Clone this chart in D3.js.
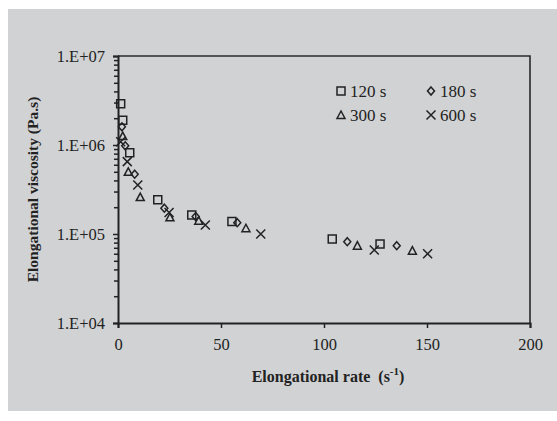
<!DOCTYPE html>
<html>
<head>
<meta charset="utf-8">
<script src="https://cdn.jsdelivr.net/npm/d3@7"></script>
<style>
  body { margin: 0; background: #fff; }
  text { font-family: "Liberation Serif", "Times New Roman", serif; fill: #222; }
</style>
</head>
<body>
<div id="chart"></div>
<script>
// data
const series = ["120 s", "180 s", "300 s", "600 s"];
const rate120 = [1.3, 2.3, 5.7, 19.3, 35.8, 55.3, 104, 127.2];
const visc120 = [2.9e6, 1.9e6, 8.2e5, 2.43e5, 1.63e5, 1.38e5, 8.8e4, 7.7e4];
const rate180 = [1.9, 3.5, 8.1, 22.5, 37.7, 57.9, 111.3, 135.3];
const visc180 = [1.6e6, 9.8e5, 4.7e5, 1.95e5, 1.57e5, 1.34e5, 8.2e4, 7.4e4];
const rate300 = [2.3, 5.0, 10.8, 25.2, 39.2, 62.1, 116.2, 142.9];
const visc300 = [1.26e6, 5.0e5, 2.6e5, 1.54e5, 1.41e5, 1.16e5, 7.4e4, 6.5e4];
const rate600 = [1.3, 4.5, 9.6, 24.8, 42.4, 69.3, 124.4, 150.3];
const visc600 = [1.09e6, 6.5e5, 3.55e5, 1.74e5, 1.26e5, 1.0e5, 6.6e4, 6.0e4];
const xTicks = [0, 50, 100, 150, 200];
const yTicks = [1e4, 1e5, 1e6, 1e7];

const width = 557, height = 421;
const plotL = 118, plotR = 530, plotT = 56, plotB = 323;

const svg = d3.select("#chart").append("svg")
  .attr("width", width)
  .attr("height", height);

// gray panel
svg.append("rect")
  .attr("x", 8).attr("y", 9)
  .attr("width", width - 8).attr("height", 402)
  .attr("fill", "#d1d2d4");

const x = d3.scaleLinear().domain([0, 200]).range([plotL, plotR]);
const y = d3.scaleLog().domain([1e4, 1e7]).range([plotB, plotT]);

// frame top and right
svg.append("path")
  .attr("d", `M${plotL},${plotT}H${plotR}V${plotB}`)
  .attr("fill", "none")
  .attr("stroke", "#2a2a2a")
  .attr("stroke-width", 1.6);

// minor ticks on log axis
const minor = [];
yTicks.slice(0, 3).forEach(p => {
  for (let k = 2; k <= 9; k++) minor.push(p * k);
});

svg.append("g")
  .attr("transform", `translate(${plotL},0)`)
  .call(d3.axisLeft(y).tickValues(minor).tickSize(4).tickFormat(""))
  .call(g => g.select(".domain").remove())
  .call(g => g.selectAll("line").attr("stroke", "#222").attr("stroke-width", 1.5));

const yAxis = svg.append("g")
  .attr("transform", `translate(${plotL},0)`)
  .call(d3.axisLeft(y).tickValues(yTicks).tickSize(5).tickPadding(8)
    .tickFormat(d => "1.E+" + String(Math.round(Math.log10(d))).padStart(2, "0")));
yAxis.select(".domain").attr("stroke", "#222").attr("stroke-width", 2);
yAxis.selectAll("line").attr("stroke", "#222").attr("stroke-width", 1.5);
yAxis.selectAll("text").attr("font-size", 16.5).attr("fill", "#222")
  .style("font-family", "Liberation Serif");

const xAxis = svg.append("g")
  .attr("transform", `translate(0,${plotB})`)
  .call(d3.axisBottom(x).tickValues(xTicks).tickSize(5).tickPadding(10));
xAxis.select(".domain").attr("stroke", "#222").attr("stroke-width", 2);
xAxis.selectAll("line").attr("stroke", "#222").attr("stroke-width", 1.5);
xAxis.selectAll("text").attr("font-size", 16.5).attr("fill", "#222")
  .style("font-family", "Liberation Serif");

// marker shapes
const shapes = {
  "120 s": "M-4,-4H4V4H-4Z",
  "180 s": "M0,-4L3.5,0L0,4L-3.5,0Z",
  "300 s": "M0,-4L4,3.5H-4Z",
  "600 s": "M-4.5,-4.5L4.5,4.5M4.5,-4.5L-4.5,4.5"
};

const data = [
  { name: "120 s", xs: rate120, ys: visc120 },
  { name: "180 s", xs: rate180, ys: visc180 },
  { name: "300 s", xs: rate300, ys: visc300 },
  { name: "600 s", xs: rate600, ys: visc600 }
];

data.forEach(s => {
  svg.append("g")
    .selectAll("path")
    .data(s.xs.map((v, i) => [v, s.ys[i]]))
    .enter().append("path")
    .attr("d", shapes[s.name])
    .attr("transform", d => `translate(${x(d[0])},${y(d[1])})`)
    .attr("fill", "none")
    .attr("stroke", "#222")
    .attr("stroke-width", 1.5);
});

// legend
const legPos = [[341, 91], [431, 91], [341, 115], [431, 115]];
const leg = svg.append("g");
series.forEach((name, i) => {
  const [lx, ly] = legPos[i];
  leg.append("path")
    .attr("d", shapes[name])
    .attr("transform", `translate(${lx},${ly})`)
    .attr("fill", "none")
    .attr("stroke", "#222")
    .attr("stroke-width", 1.5);
  leg.append("text")
    .attr("x", lx + 9)
    .attr("y", ly + 6)
    .attr("font-size", 17)
    .text(name);
});

// axis titles
svg.append("text")
  .attr("x", (plotL + plotR) / 2 + 4)
  .attr("y", 382)
  .attr("text-anchor", "middle")
  .attr("font-size", 16)
  .attr("font-weight", "bold")
  .html('Elongational rate&#160; (s<tspan dy="-7" font-size="11">-1</tspan><tspan dy="7">)</tspan>');

svg.append("text")
  .attr("transform", `translate(38,${(plotT + plotB) / 2}) rotate(-90)`)
  .attr("text-anchor", "middle")
  .attr("font-size", 15.5)
  .attr("font-weight", "bold")
  .text("Elongational viscosity (Pa.s)");
</script>
</body>
</html>
